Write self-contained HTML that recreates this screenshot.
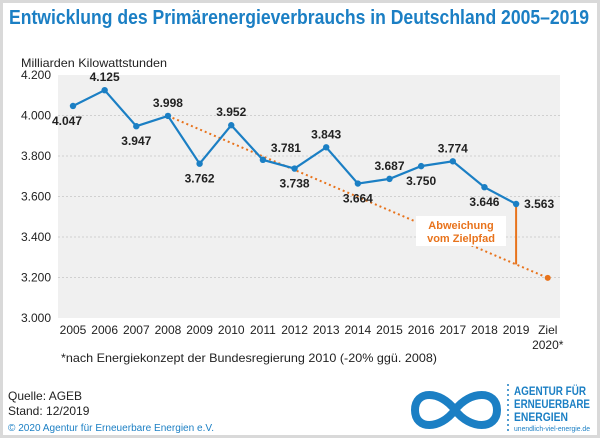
<!DOCTYPE html>
<html><head><meta charset="utf-8"><style>
body{margin:0;background:#fff}
svg{display:block;font-family:"Liberation Sans",sans-serif}
</style></head><body>
<svg width="600" height="438" viewBox="0 0 600 438">
<rect x="1.5" y="1.5" width="597" height="435" fill="#fff" stroke="#d9d9d9" stroke-width="3"/>
<text x="9" y="24" font-size="20" font-weight="bold" fill="#1b7fc4" textLength="580" lengthAdjust="spacingAndGlyphs">Entwicklung des Primärenergieverbrauchs in Deutschland 2005–2019</text>
<text x="21" y="67" font-size="12" fill="#222" textLength="146" lengthAdjust="spacingAndGlyphs">Milliarden Kilowattstunden</text>
<rect x="58" y="75" width="502" height="243" fill="#f0f0f0"/>
<g id="grid"></g><g id="ylab"></g><g id="xlab"></g>
<g id="target"></g><g id="series"></g><g id="vals"></g>
<text x="61" y="362" font-size="12" fill="#222" textLength="376" lengthAdjust="spacingAndGlyphs">*nach Energiekonzept der Bundesregierung 2010 (-20% ggü. 2008)</text>
<text x="8" y="400" font-size="12" fill="#222">Quelle: AGEB</text>
<text x="8" y="415" font-size="12" fill="#222">Stand: 12/2019</text>
<text x="8" y="431" font-size="10" fill="#1b7fc4" textLength="206" lengthAdjust="spacingAndGlyphs">© 2020 Agentur für Erneuerbare Energien e.V.</text>
<g>
<path d="M455 410 C440 390,415 390,415 410 C415 430,440 430,455 410 C470 390,497 390,497 410 C497 430,470 430,455 410 Z" fill="none" stroke="#1b7fc4" stroke-width="8"/>
<line x1="508" y1="384" x2="508" y2="432" stroke="#1b7fc4" stroke-width="1.5" stroke-dasharray="2,3"/>
<text x="514" y="395" font-size="12" font-weight="bold" fill="#1b7fc4" textLength="72" lengthAdjust="spacingAndGlyphs">AGENTUR FÜR</text>
<text x="514" y="408" font-size="12" font-weight="bold" fill="#1b7fc4" textLength="76" lengthAdjust="spacingAndGlyphs">ERNEUERBARE</text>
<text x="514" y="421" font-size="12" font-weight="bold" fill="#1b7fc4" textLength="54" lengthAdjust="spacingAndGlyphs">ENERGIEN</text>
<text x="514" y="431" font-size="7" fill="#1b7fc4" textLength="76" lengthAdjust="spacingAndGlyphs">unendlich-viel-energie.de</text>
</g>
<g>
<rect x="416" y="216" width="90" height="30" fill="#fff"/>
<text x="461" y="229" font-size="11" font-weight="bold" fill="#e8731c" text-anchor="middle">Abweichung</text>
<text x="461" y="242" font-size="11" font-weight="bold" fill="#e8731c" text-anchor="middle">vom Zielpfad</text>
</g>
</svg>
<script>
const years=["2005","2006","2007","2008","2009","2010","2011","2012","2013","2014","2015","2016","2017","2018","2019"];
const values=[4047,4125,3947,3998,3762,3952,3781,3738,3843,3664,3687,3750,3774,3646,3563];
const labelPos=["bl","a","b","a","b","a","ar","b","a","b","a","b","a","b","r"];
const targetYears=["2008","Ziel"];
const targetValues=[3998,3198];
const yTicks=[3000,3200,3400,3600,3800,4000,4200];
const ns="http://www.w3.org/2000/svg";
const xi=i=>73+i*31.65;
const y=v=>75+(4200-v)*243/1200;
const fmt=v=>String(v).replace(/(\d)(\d{3})$/,"$1.$2");
function mk(p,t,a){const e=document.createElementNS(ns,t);for(const k in a)e.setAttribute(k,a[k]);document.getElementById(p).appendChild(e);return e;}
yTicks.forEach(t=>{
 if(t>3000&&t<4200){const l=mk("grid","line",{x1:58,x2:560,y1:y(t),y2:y(t),stroke:"#d0d0d0","stroke-dasharray":"2,2"});
 
 }
 const tx=mk("ylab","text",{x:21,y:y(t)+4,"font-size":12,fill:"#222"});tx.textContent=fmt(t);
 
 
});
const allX=years.concat(["Ziel"]);
allX.forEach((c,i)=>{
 const tx=mk("xlab","text",{x:xi(i),y:334,"font-size":12,fill:"#222","text-anchor":"middle"});tx.textContent=c;
 
 
 if(c==="Ziel"){const t2=mk("xlab","text",{x:xi(i),y:349,"font-size":12,fill:"#222","text-anchor":"middle"});t2.textContent="2020*";
 
 }
});
const ti=targetYears.map(c=>allX.indexOf(c));
const tl=mk("target","line",{x1:xi(ti[0]),y1:y(targetValues[0]),x2:xi(ti[1]),y2:y(targetValues[1]),stroke:"#e8731c","stroke-width":2,"stroke-dasharray":"2,3"});


const tp=mk("target","circle",{cx:xi(ti[1]),cy:y(targetValues[1]),r:3,fill:"#e8731c"});


const li=years.length-1;
const goal=targetValues[0]+(targetValues[1]-targetValues[0])*(li-ti[0])/(ti[1]-ti[0]);
const dv=mk("target","line",{x1:xi(li),x2:xi(li),y1:y(values[li]),y2:y(goal),stroke:"#e8731c","stroke-width":2});


const pl=mk("series","polyline",{points:values.map((v,i)=>xi(i)+","+y(v)).join(" "),fill:"none",stroke:"#1b7fc4","stroke-width":2.2});


values.forEach((v,i)=>{
 const c=mk("series","circle",{cx:xi(i),cy:y(v),r:3.2,fill:"#1b7fc4"});
 
 
 const p=labelPos[i];let x=xi(i),yy=y(v),a="middle";
 if(p==="a")yy-=9;else if(p==="b")yy+=19;else if(p==="bl"){x+=-6;yy+=19;}
 else if(p==="ar"){x+=8;yy-=8;a="start";}else if(p==="r"){x+=8;yy+=4;a="start";}
 const t=mk("vals","text",{x:x,y:yy,"font-size":12,"font-weight":"bold",fill:"#222","text-anchor":a});t.textContent=fmt(v);
 
 
});
</script>
</body></html>
